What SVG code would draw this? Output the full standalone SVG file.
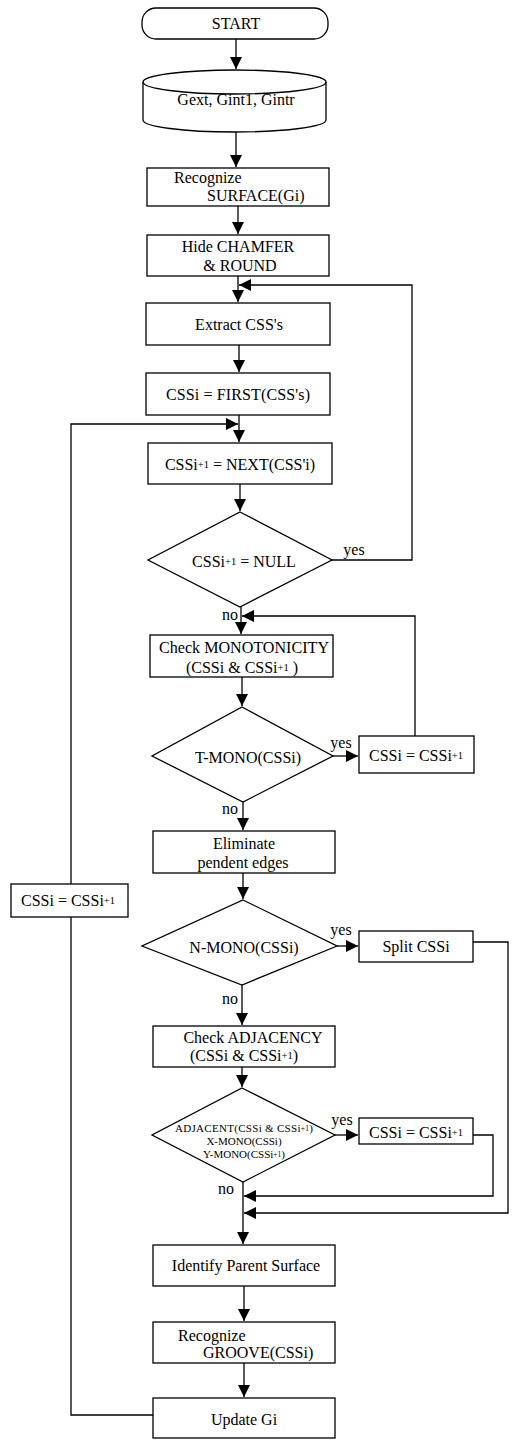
<svg xmlns="http://www.w3.org/2000/svg" width="514" height="1440" viewBox="0 0 514 1440">
<style>
.b{fill:#fff;stroke:#000;stroke-width:1.3}
.t{font-family:"Liberation Serif","Times New Roman",serif;font-size:16px;fill:#000;text-anchor:middle;dominant-baseline:central}
.l{text-anchor:start}
.s{font-size:10.5px}
.a{font-size:11px}
.xs{font-size:7.5px}
.c{fill:none;stroke:#000;stroke-width:1.3}
</style>
<defs>
<marker id="ah" viewBox="0 0 10 10" refX="10" refY="5" markerWidth="12" markerHeight="12" markerUnits="userSpaceOnUse" orient="auto">
<path d="M0,0 L10,5 L0,10 z" fill="#000"/>
</marker>
</defs>
<rect width="514" height="1440" fill="#fff"/>
<g id="connectors">
<path class="c" d="M236,39 V69" marker-end="url(#ah)"/>
<path class="c" d="M236,132 V167" marker-end="url(#ah)"/>
<path class="c" d="M238,206 V234" marker-end="url(#ah)"/>
<path class="c" d="M238,276 V302" marker-end="url(#ah)"/>
<path class="c" d="M239,345 V372" marker-end="url(#ah)"/>
<path class="c" d="M239,415 V442" marker-end="url(#ah)"/>
<path class="c" d="M240,484 V511" marker-end="url(#ah)"/>
<path class="c" d="M332,560 H412 V285 H239" marker-end="url(#ah)"/>
<path class="c" d="M241,607 V634" marker-end="url(#ah)"/>
<path class="c" d="M242,677 V706" marker-end="url(#ah)"/>
<path class="c" d="M333,756 H358" marker-end="url(#ah)"/>
<path class="c" d="M415,736 V616 H242" marker-end="url(#ah)"/>
<path class="c" d="M243,802 V830" marker-end="url(#ah)"/>
<path class="c" d="M243,873 V899" marker-end="url(#ah)"/>
<path class="c" d="M337,946 H358" marker-end="url(#ah)"/>
<path class="c" d="M242,985 V1025" marker-end="url(#ah)"/>
<path class="c" d="M242,1067 V1087" marker-end="url(#ah)"/>
<path class="c" d="M335,1135 H358" marker-end="url(#ah)"/>
<path class="c" d="M243,1182 V1244" marker-end="url(#ah)"/>
<path class="c" d="M473,1135 H493 V1196 H244" marker-end="url(#ah)"/>
<path class="c" d="M473,942 H508 V1213 H244" marker-end="url(#ah)"/>
<path class="c" d="M244,1286 V1321" marker-end="url(#ah)"/>
<path class="c" d="M244,1363 V1397" marker-end="url(#ah)"/>
<path class="c" d="M153,1415 H71 V424 H238" marker-end="url(#ah)"/>
<text class="t" x="354" y="549">yes</text>
<text class="t" x="230" y="614">no</text>
<text class="t" x="341" y="742">yes</text>
<text class="t" x="230" y="808">no</text>
<text class="t" x="341" y="929">yes</text>
<text class="t" x="230" y="998">no</text>
<text class="t" x="342" y="1119">yes</text>
<text class="t" x="226" y="1188">no</text>
</g>
<g id="start">
<rect class="b" x="142" y="8" width="186" height="31" rx="14" ry="14"/>
<text class="t" x="236" y="23">START</text>
</g>
<g id="data">
<path class="b" d="M143,82 A91.5,12 0 0 1 326,82 V120 A91.5,12 0 0 1 143,120 Z"/>
<path class="c" d="M143,82 A91.5,12 0 0 0 326,82"/>
<text class="t" x="236" y="99">Gext, Gint1, Gintr</text>
</g>
<g id="recognize-surface">
<rect class="b" x="147" y="168" width="182" height="38"/>
<text class="t l" x="174" y="177">Recognize</text>
<text class="t l" x="207" y="195">SURFACE(Gi)</text>
</g>
<g id="hide">
<rect class="b" x="147" y="235" width="182" height="41"/>
<text class="t" x="238" y="246">Hide CHAMFER</text>
<text class="t" x="240" y="265">&amp; ROUND</text>
</g>
<g id="extract">
<rect class="b" x="146" y="303" width="184" height="42"/>
<text class="t" x="239" y="324">Extract CSS's</text>
</g>
<g id="first">
<rect class="b" x="146" y="373" width="184" height="42"/>
<text class="t" x="238" y="394" textLength="144" lengthAdjust="spacing">CSSi = FIRST(CSS's)</text>
</g>
<g id="next">
<rect class="b" x="148" y="443" width="184" height="41"/>
<text class="t" x="240" y="464">CSSi<tspan class="s">+1</tspan> = NEXT(CSS'i)</text>
</g>
<g id="null-check">
<polygon class="b" points="240,512 332,560 240,607 148,560"/>
<text class="t" x="244" y="561">CSSi<tspan class="s">+1</tspan> = NULL</text>
</g>
<g id="check-mono">
<rect class="b" x="150" y="635" width="183" height="42"/>
<text class="t" x="244" y="647" textLength="170" lengthAdjust="spacingAndGlyphs">Check MONOTONICITY</text>
<text class="t" x="242" y="667">(CSSi &amp; CSSi<tspan class="s">+1</tspan> )</text>
</g>
<g id="t-mono">
<polygon class="b" points="242,707 333,756 243,802 152,756"/>
<text class="t" x="248" y="757">T-MONO(CSSi)</text>
</g>
<g id="assign1">
<rect class="b" x="359" y="736" width="115" height="37"/>
<text class="t" x="416" y="755">CSSi = CSSi<tspan class="s">+1</tspan></text>
</g>
<g id="eliminate">
<rect class="b" x="153" y="831" width="182" height="42"/>
<text class="t" x="244" y="843">Eliminate</text>
<text class="t" x="243" y="862">pendent edges</text>
</g>
<g id="assign-left">
<rect class="b" x="11" y="884" width="117" height="33"/>
<text class="t" x="68" y="900">CSSi = CSSi<tspan class="s">+1</tspan></text>
</g>
<g id="n-mono">
<polygon class="b" points="243,900 337,946 242,985 142,946"/>
<text class="t" x="244" y="947">N-MONO(CSSi)</text>
</g>
<g id="split">
<rect class="b" x="359" y="931" width="114" height="31"/>
<text class="t" x="416" y="946">Split CSSi</text>
</g>
<g id="check-adj">
<rect class="b" x="153" y="1026" width="182" height="41"/>
<text class="t" x="253" y="1037">Check ADJACENCY</text>
<text class="t" x="244" y="1055">(CSSi &amp; CSSi<tspan class="s">+1</tspan>)</text>
</g>
<g id="adjacent">
<polygon class="b" points="242,1088 335,1135 243,1182 152,1135"/>
<text class="t a" x="244" y="1128" textLength="138" lengthAdjust="spacing">ADJACENT(CSSi &amp; CSSi<tspan class="xs">+1</tspan>)</text>
<text class="t a" x="244" y="1141">X-MONO(CSSi)</text>
<text class="t a" x="244" y="1154">Y-MONO(CSSi<tspan class="xs">+1</tspan>)</text>
</g>
<g id="assign2">
<rect class="b" x="359" y="1118" width="114" height="26"/>
<text class="t" x="416" y="1132">CSSi = CSSi<tspan class="s">+1</tspan></text>
</g>
<g id="identify">
<rect class="b" x="153" y="1245" width="182" height="41"/>
<text class="t" x="246" y="1265">Identify Parent Surface</text>
</g>
<g id="recognize-groove">
<rect class="b" x="153" y="1322" width="182" height="41"/>
<text class="t l" x="178" y="1335">Recognize</text>
<text class="t l" x="203" y="1352">GROOVE(CSSi)</text>
</g>
<g id="update">
<rect class="b" x="153" y="1398" width="182" height="40"/>
<text class="t" x="244" y="1419">Update Gi</text>
</g>
</svg>
